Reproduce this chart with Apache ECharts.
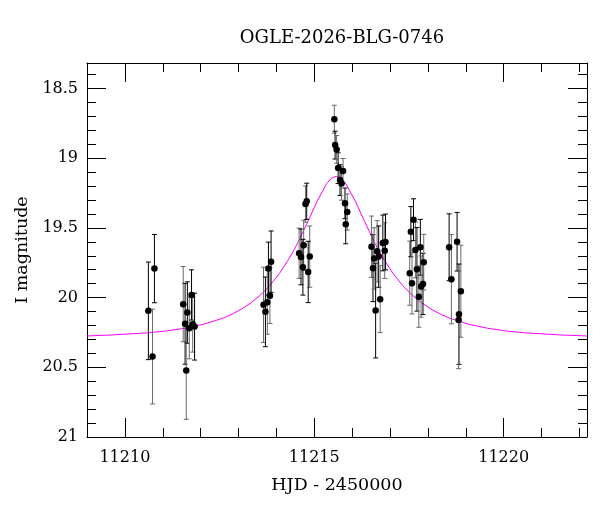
<!DOCTYPE html>
<html>
<head>
<meta charset="utf-8">
<script src="https://cdn.jsdelivr.net/npm/echarts@6/dist/echarts.min.js"></script>
<style>html,body{margin:0;padding:0;background:#fff;}#chart{width:600px;height:512px;}</style>
</head>
<body>
<div id="chart"></div>
<script>
const chartTitle = 'OGLE-2026-BLG-0746';
const xName = 'HJD - 2450000';
const yName = 'I magnitude';

const hjd = [
  11210.62, 11210.73, 11210.78,
  11211.54, 11211.59, 11211.62, 11211.65, 11211.70, 11211.76, 11211.79, 11211.84,
  11213.66, 11213.71, 11213.76, 11213.79, 11213.83, 11213.86,
  11214.60, 11214.65, 11214.72, 11214.70, 11214.77, 11214.80, 11214.88, 11214.84,
  11215.53, 11215.55, 11215.59, 11215.63, 11215.76, 11215.68, 11215.72, 11215.81, 11215.87, 11215.83,
  11216.51, 11216.55, 11216.58, 11216.62, 11216.66, 11216.70, 11216.74, 11216.81, 11216.86, 11216.88,
  11217.52, 11217.55, 11217.58, 11217.62, 11217.67, 11217.71, 11217.76, 11217.80, 11217.82, 11217.87, 11217.89,
  11218.56, 11218.62, 11218.77, 11218.87, 11218.82, 11218.81
];
const mag = [
  20.095, 20.423, 19.792,
  20.047, 20.188, 20.523, 20.107, 20.219, 19.981, 20.191, 20.208,
  20.052, 20.102, 20.033, 19.792, 19.986, 19.742,
  19.682, 19.708, 19.625, 19.782, 19.329, 19.309, 19.706, 19.816,
  18.720, 18.906, 18.937, 19.071, 19.092, 19.157, 19.181, 19.324, 19.386, 19.474,
  19.635, 19.789, 19.719, 20.093, 19.668, 19.706, 20.011, 19.608, 19.663, 19.601,
  19.825, 19.527, 19.897, 19.441, 19.658, 19.797, 19.993, 19.639, 19.921, 19.902, 19.746,
  19.639, 19.868, 19.599, 19.954, 20.119, 20.160
];
const magErr = [
  0.35, 0.34, 0.245,
  0.27, 0.29, 0.35, 0.22, 0.22, 0.18, 0.20, 0.24,
  0.27, 0.25, 0.23, 0.19, 0.20, 0.22,
  0.18, 0.20, 0.18, 0.20, 0.13, 0.13, 0.22, 0.22,
  0.10, 0.10, 0.10, 0.11, 0.09, 0.11, 0.12, 0.11, 0.13, 0.14,
  0.22, 0.24, 0.22, 0.34, 0.22, 0.22, 0.24, 0.20, 0.20, 0.20,
  0.23, 0.18, 0.22, 0.15, 0.20, 0.30, 0.22, 0.20, 0.22, 0.22, 0.20,
  0.24, 0.32, 0.21, 0.33, 0.36, 0.35
];

const modelT = [
  11209.0, 11209.58, 11210.58, 11211.08, 11211.58, 11212.08, 11212.58, 11212.83, 11213.08, 11213.33, 11213.58,
  11213.83, 11214.08, 11214.33, 11214.455, 11214.58, 11214.83, 11215.08, 11215.33, 11215.455,
  11215.58, 11215.705, 11215.83, 11216.08, 11216.33, 11216.58, 11216.705, 11216.83, 11217.08,
  11217.33, 11217.58, 11217.83, 11218.08, 11218.33, 11218.58, 11219.08, 11219.58, 11220.08, 11220.58, 11221.58, 11222.2
];
const modelMag = [
  20.275, 20.269, 20.253, 20.240, 20.220, 20.191, 20.148, 20.119, 20.082, 20.037, 19.981,
  19.912, 19.827, 19.722, 19.663, 19.598, 19.455, 19.306, 19.181, 19.143,
  19.130, 19.143, 19.181, 19.306, 19.455, 19.598, 19.663, 19.722, 19.827,
  19.912, 19.981, 20.037, 20.082, 20.119, 20.148, 20.191, 20.220, 20.240, 20.253, 20.269, 20.275
];

const xMajorTicks = [11210, 11215, 11220];
const xMinorTicks = [11209, 11210, 11211, 11212, 11213, 11214, 11215, 11216, 11217, 11218, 11219, 11220, 11221, 11222];
const yMajorTicks = [18.5, 19, 19.5, 20, 20.5, 21];
const yMinorTicks = [18.4, 18.5, 18.6, 18.7, 18.8, 18.9, 19.0, 19.1, 19.2, 19.3, 19.4, 19.5, 19.6, 19.7, 19.8, 19.9,
  20.0, 20.1, 20.2, 20.3, 20.4, 20.5, 20.6, 20.7, 20.8, 20.9, 21.0];

const X_MIN = 11209, X_MAX = 11222.2;
const Y_MIN = 18.317, Y_MAX = 21;
const FONT = 'DejaVu Serif';

const pointData = hjd.map((t, i) => [t, mag[i]]);
const errData = hjd.map((t, i) => [t, mag[i] - magErr[i], mag[i] + magErr[i]]);
const modelData = modelT.map((t, i) => [t, modelMag[i]]);

function xAxisDef(pos, major, showLine, showLabel, name) {
  return {
    type: 'value', position: pos, min: X_MIN, max: X_MAX, gridIndex: 0,
    axisLine: { show: showLine, onZero: false, lineStyle: { color: '#000', width: 1 } },
    axisTick: { show: true, inside: true, length: major ? 19 : 9, customValues: major ? xMajorTicks : xMinorTicks,
      lineStyle: { color: '#000', width: 1 } },
    axisLabel: showLabel ? { show: true, customValues: xMajorTicks, fontFamily: FONT, fontSize: 16, color: '#000', margin: 13,
      formatter: v => String(v) } : { show: false },
    splitLine: { show: false },
    name: name || '', nameLocation: 'middle', nameGap: 39,
    nameTextStyle: { fontFamily: FONT, fontSize: 17.5, color: '#000' }
  };
}
function yAxisDef(pos, major, showLine, showLabel, name) {
  return {
    type: 'value', position: pos, min: Y_MIN, max: Y_MAX, inverse: true, gridIndex: 0,
    axisLine: { show: showLine, onZero: false, lineStyle: { color: '#000', width: 1 } },
    axisTick: { show: true, inside: true, length: major ? 19 : 9, customValues: major ? yMajorTicks : yMinorTicks,
      lineStyle: { color: '#000', width: 1 } },
    axisLabel: showLabel ? { show: true, customValues: yMajorTicks, fontFamily: FONT, fontSize: 16, color: '#000', margin: 9,
      formatter: v => String(v) } : { show: false },
    splitLine: { show: false },
    name: name || '', nameLocation: 'middle', nameGap: 56, nameRotate: 90,
    nameTextStyle: { fontFamily: FONT, fontSize: 17.5, color: '#000' }
  };
}

const chart = echarts.init(document.getElementById('chart'), null, { renderer: 'canvas' });
chart.setOption({
  animation: false,
  backgroundColor: '#fff',
  title: {
    text: chartTitle, left: 337, top: 24, textAlign: 'center',
    textStyle: { fontFamily: FONT, fontSize: 18, fontWeight: 'normal', color: '#000' }
  },
  grid: { left: 87, right: 13, top: 63, bottom: 75, containLabel: false },
  xAxis: [
    xAxisDef('bottom', true, true, true, xName),
    xAxisDef('bottom', false, false, false),
    xAxisDef('top', true, true, false),
    xAxisDef('top', false, false, false)
  ],
  yAxis: [
    yAxisDef('left', true, true, true, yName),
    yAxisDef('left', false, false, false),
    yAxisDef('right', true, true, false),
    yAxisDef('right', false, false, false)
  ],
  series: [
    {
      type: 'line', data: modelData, xAxisIndex: 0, yAxisIndex: 0,
      showSymbol: false, smooth: false,
      lineStyle: { color: '#ff00ff', width: 1 }, z: 1, silent: true
    },
    {
      type: 'custom', data: errData, xAxisIndex: 0, yAxisIndex: 0, z: 2, silent: true,
      encode: { x: 0, y: [1, 2] },
      renderItem: function (params, api) {
        const x = api.value(0);
        const p1 = api.coord([x, api.value(1)]);
        const p2 = api.coord([x, api.value(2)]);
        const w = 2.5;
        const col = params.dataIndex % 2 ? '#6a6a6a' : '#000';
        const st = { stroke: col, lineWidth: 1 };
        return {
          type: 'group',
          children: [
            { type: 'line', shape: { x1: p1[0], y1: p1[1], x2: p2[0], y2: p2[1] }, style: st },
            { type: 'line', shape: { x1: p1[0] - w, y1: p1[1], x2: p1[0] + w, y2: p1[1] }, style: st },
            { type: 'line', shape: { x1: p2[0] - w, y1: p2[1], x2: p2[0] + w, y2: p2[1] }, style: st }
          ]
        };
      }
    },
    {
      type: 'scatter', data: pointData, xAxisIndex: 0, yAxisIndex: 0, z: 3,
      symbol: 'circle', symbolSize: 6.5, itemStyle: { color: '#000', opacity: 1 }, silent: true
    }
  ]
});
</script>
</body>
</html>
